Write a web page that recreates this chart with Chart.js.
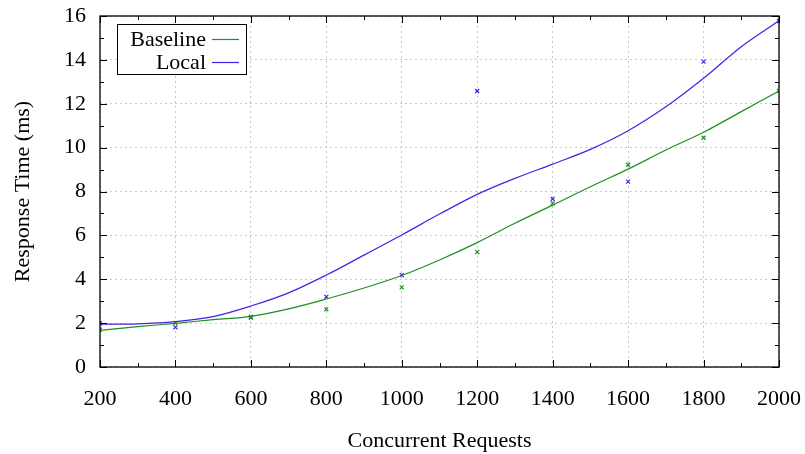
<!DOCTYPE html>
<html>
<head>
<meta charset="utf-8">
<script src="https://cdn.jsdelivr.net/npm/chart.js@4/dist/chart.umd.min.js"></script>
<style>
  html, body { margin: 0; padding: 0; background: #fff; }
  #wrap { width: 805px; height: 454px; }
</style>
</head>
<body>
<div id="wrap"><canvas id="chart" width="805" height="454"></canvas></div>
<script>
// measured samples (concurrent requests -> ms)
var requests = [200, 400, 600, 800, 1000, 1200, 1400, 1600, 1800, 2000];
var baselinePoints = [1.7, 2.0, 2.29, 2.63, 3.63, 5.24, 7.46, 9.22, 10.45, 12.59];
var localPoints = [1.99, 1.81, 2.25, 3.2, 4.19, 12.58, 7.66, 8.45, 13.92, 15.77];

// fitted curves, every 100 requests
var fitRequests = [200, 300, 400, 500, 600, 700, 800, 900, 1000, 1100, 1200,
  1300, 1400, 1500, 1600, 1700, 1800, 1900, 2000];
var baselineFit = [1.67, 1.84, 1.99, 2.16, 2.31, 2.65, 3.1, 3.6, 4.17, 4.88, 5.67,
  6.55, 7.38, 8.22, 9.02, 9.89, 10.7, 11.64, 12.58];
var localFit = [1.95, 1.97, 2.07, 2.3, 2.78, 3.38, 4.19, 5.1, 6.02, 6.97, 7.87,
  8.6, 9.25, 9.92, 10.77, 11.86, 13.16, 14.6, 15.78];

var seriesNames = ["Baseline", "Local"];
var greenColor = "#1f8f1f";
var blueColor = "#4a1ee6";
var serif = "'Liberation Serif', 'DejaVu Serif', serif";
var fontSize = 22;

function pairs(xs, ys) {
  return xs.map(function (x, i) {
    return { x: x, y: ys[i] };
  });
}

function noOverhang(scale) {
  scale.paddingTop = 0;
  scale.paddingBottom = 0;
  scale.paddingLeft = 0;
  scale.paddingRight = 0;
}

// gnuplot style ticks drawn inside the border, plus the boxed legend
var framePlugin = {
  id: "frame",
  afterDraw: function (chart) {
    var ctx = chart.ctx;
    var area = chart.chartArea;
    var xs = chart.scales.x;
    var ys = chart.scales.y;
    ctx.save();
    ctx.strokeStyle = "#000";
    ctx.lineWidth = 1;
    xs.ticks.forEach(function (t) {
      var px = Math.round(xs.getPixelForValue(t.value)) + 0.5;
      var len = t.value % 200 === 0 ? 7 : 4;
      ctx.beginPath();
      ctx.moveTo(px, area.bottom);
      ctx.lineTo(px, area.bottom - len);
      ctx.moveTo(px, area.top);
      ctx.lineTo(px, area.top + len);
      ctx.stroke();
    });
    ys.ticks.forEach(function (t) {
      var py = Math.round(ys.getPixelForValue(t.value)) + 0.5;
      var len = t.value % 2 === 0 ? 7 : 4;
      ctx.beginPath();
      ctx.moveTo(area.left, py);
      ctx.lineTo(area.left + len, py);
      ctx.moveTo(area.right, py);
      ctx.lineTo(area.right - len, py);
      ctx.stroke();
    });
    ctx.lineWidth = 1.3;
    ctx.strokeRect(area.left, area.top, area.right - area.left, area.bottom - area.top);

    // legend box
    var bx = 117, by = 24, bw = 129, bh = 50;
    ctx.fillStyle = "#fff";
    ctx.fillRect(bx, by, bw, bh);
    ctx.lineWidth = 1;
    ctx.strokeRect(bx + 0.5, by + 0.5, bw, bh);
    ctx.font = fontSize + "px " + serif;
    ctx.textAlign = "right";
    ctx.textBaseline = "middle";
    var colors = [greenColor, blueColor];
    seriesNames.forEach(function (name, i) {
      var cy = 39 + i * 23;
      ctx.fillStyle = "#000";
      ctx.fillText(name, 206, cy + 1);
      ctx.strokeStyle = colors[i];
      ctx.lineWidth = 1.2;
      ctx.beginPath();
      ctx.moveTo(212, cy + 0.5);
      ctx.lineTo(239, cy + 0.5);
      ctx.stroke();
    });
    ctx.restore();
  },
};

new Chart(document.getElementById("chart"), {
  type: "scatter",
  data: {
    datasets: [
      {
        label: seriesNames[0],
        type: "line",
        data: pairs(fitRequests, baselineFit),
        borderColor: greenColor,
        borderWidth: 1.2,
        pointRadius: 0,
        cubicInterpolationMode: "monotone",
        fill: false,
      },
      {
        label: seriesNames[1],
        type: "line",
        data: pairs(fitRequests, localFit),
        borderColor: blueColor,
        borderWidth: 1.2,
        pointRadius: 0,
        cubicInterpolationMode: "monotone",
        fill: false,
      },
      {
        label: seriesNames[0] + " samples",
        data: pairs(requests, baselinePoints),
        pointStyle: "crossRot",
        pointRadius: 2.8,
        borderColor: greenColor,
        borderWidth: 1.2,
      },
      {
        label: seriesNames[1] + " samples",
        data: pairs(requests, localPoints),
        pointStyle: "crossRot",
        pointRadius: 2.8,
        borderColor: blueColor,
        borderWidth: 1.2,
      },
    ],
  },
  options: {
    responsive: false,
    animation: false,
    layout: { padding: { top: 16, right: 26, left: 0, bottom: 0 } },
    plugins: {
      legend: { display: false },
      tooltip: { enabled: false },
    },
    scales: {
      x: {
        type: "linear",
        min: 200,
        max: 2000,
        border: { display: false, dash: [2, 3] },
        ticks: {
          stepSize: 100,
          padding: 19,
          color: "#000",
          font: { family: serif, size: fontSize },
          maxRotation: 0,
          autoSkip: false,
          callback: function (v) {
            return v % 200 === 0 ? String(v) : "";
          },
        },
        grid: {
          drawTicks: false,
          lineWidth: 1,
          color: function (c) {
            return c.tick && c.tick.value % 200 === 0 ? "#c8c8c8" : "transparent";
          },
        },
        title: {
          display: true,
          text: "Concurrent Requests",
          color: "#000",
          font: { family: serif, size: fontSize },
          padding: { top: 0, bottom: 0 },
        },
        afterFit: function (scale) {
          scale.height = 87;
          noOverhang(scale);
        },
      },
      y: {
        min: 0,
        max: 16,
        border: { display: false, dash: [2, 3] },
        ticks: {
          stepSize: 1,
          padding: 14,
          color: "#000",
          font: { family: serif, size: fontSize },
          autoSkip: false,
          callback: function (v) {
            return v % 2 === 0 ? String(v) : "";
          },
        },
        grid: {
          drawTicks: false,
          lineWidth: 1,
          color: function (c) {
            return c.tick && c.tick.value % 2 === 0 ? "#c8c8c8" : "transparent";
          },
        },
        title: {
          display: true,
          text: "Response Time (ms)",
          color: "#000",
          font: { family: serif, size: fontSize },
          padding: { top: 10, bottom: 0 },
        },
        afterFit: function (scale) {
          scale.width = 100;
          noOverhang(scale);
        },
      },
    },
  },
  plugins: [framePlugin],
});
</script>
</body>
</html>
